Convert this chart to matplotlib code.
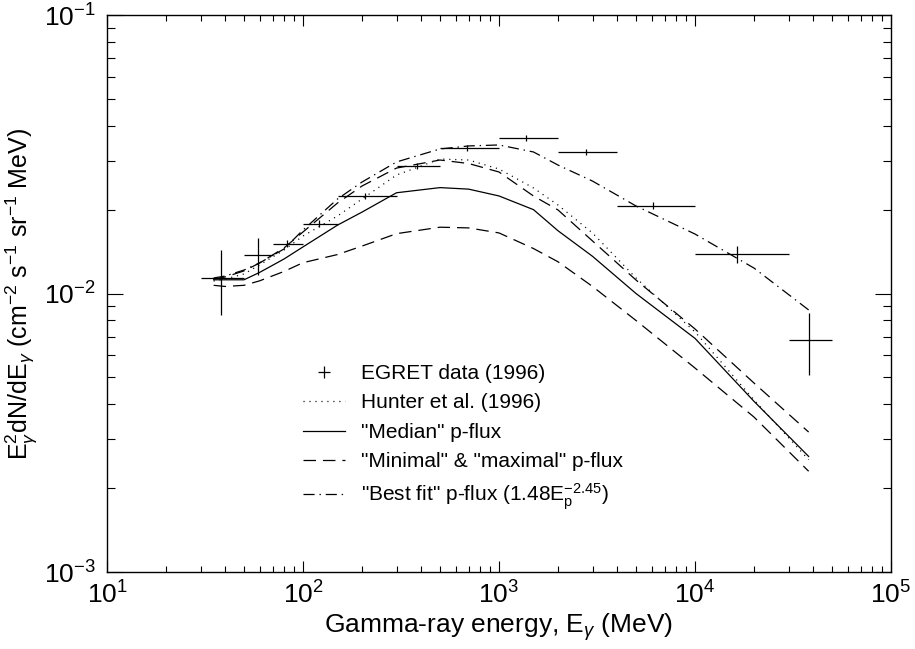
import matplotlib
matplotlib.use('Agg')
import matplotlib.pyplot as plt
from matplotlib.lines import Line2D
from matplotlib.ticker import LogLocator, NullFormatter

plt.rcParams['font.family'] = ['Liberation Sans', 'DejaVu Sans']
plt.rcParams['mathtext.fontset'] = 'custom'
plt.rcParams['mathtext.rm'] = 'Liberation Sans'
plt.rcParams['mathtext.it'] = 'Liberation Sans:italic'
plt.rcParams['mathtext.bf'] = 'Liberation Sans:bold'
plt.rcParams['axes.unicode_minus'] = False
plt.rcParams['lines.scale_dashes'] = False

# EGRET data (1996): bin centres, bin edges, flux and flux errors
egret_e = [38, 59, 83, 121, 207, 383, 690, 1380, 2770, 6080, 16400, 38300]
egret_e_lo = [30, 50, 70, 100, 150, 300, 500, 1000, 2000, 4000, 10000, 30000]
egret_e_hi = [50, 70, 100, 150, 300, 500, 1000, 2000, 4000, 10000, 30000, 50000]
egret_flux = [0.0114, 0.0137, 0.0151, 0.0178, 0.0224, 0.0287, 0.0333, 0.0363,
              0.0321, 0.0207, 0.0139, 0.0068]
egret_flux_lo = [0.00838, 0.01165, 0.0147, 0.0173, 0.0218, 0.0280, 0.0325, 0.0354,
                 0.0313, 0.0201, 0.0129, 0.0051]
egret_flux_hi = [0.01433, 0.01582, 0.0155, 0.0183, 0.0230, 0.0294, 0.0341, 0.0372,
                 0.0329, 0.0213, 0.0148, 0.0085]

# model curves
curve_e = [35, 40, 50, 60, 80, 100, 150, 200, 300, 500, 700, 1000, 1500, 2000,
           3000, 5000, 10000, 20000, 38000]
hunter = [0.01109, 0.01127, 0.01175, 0.01266, 0.01433, 0.01608, 0.01898, 0.02184,
          0.02663, 0.03040, 0.03015, 0.02799, 0.02393, 0.02078, 0.01649, 0.01137,
          0.00728, 0.00415, 0.00253]
median = [0.0112, 0.0112, 0.0112, 0.0119, 0.0133, 0.0147, 0.0176, 0.0196, 0.0230,
          0.0240, 0.0237, 0.0224, 0.0200, 0.0168, 0.0136, 0.0100, 0.0069, 0.0041,
          0.0026]
minimal = [0.0107, 0.0106, 0.0107, 0.0111, 0.0120, 0.0129, 0.0138, 0.0148, 0.0164,
           0.0173, 0.0172, 0.0165, 0.0145, 0.0130, 0.0106, 0.0080, 0.0054, 0.0036,
           0.0023]
maximal = [0.01127, 0.01146, 0.01205, 0.01287, 0.01457, 0.01663, 0.02113, 0.02432,
           0.02821, 0.03015, 0.02929, 0.02731, 0.02239, 0.01995, 0.01544, 0.01118,
           0.00746, 0.00477, 0.00318]
best_fit = [0.01137, 0.01155, 0.01214, 0.01287, 0.01445, 0.01690, 0.02184, 0.02513,
            0.02967, 0.03304, 0.03387, 0.03415, 0.03222, 0.02892, 0.02533, 0.02062,
            0.01635, 0.01234, 0.00873]

legend_labels = ['EGRET data (1996)', 'Hunter et al. (1996)', '"Median" p-flux',
                 '"Minimal" & "maximal" p-flux',
                 r'"Best fit" p-flux (1.48E$_\mathrm{p}^{\mathrm{-2.45}}$)']

lw = 0.9
dotted = (0, (0.8, 3.5))
dashed = (0, (9, 5))
dashdot = (0, (8, 3.5, 1, 3.5))

fig = plt.figure(figsize=(9.15, 6.49), dpi=100)
ax = fig.add_axes([107 / 915, 1 - 572 / 649, 784 / 915, 557 / 649])

xerr = [[c - lo for c, lo in zip(egret_e, egret_e_lo)],
        [hi - c for c, hi in zip(egret_e, egret_e_hi)]]
yerr = [[f - lo for f, lo in zip(egret_flux, egret_flux_lo)],
        [hi - f for f, hi in zip(egret_flux, egret_flux_hi)]]
ax.errorbar(egret_e, egret_flux, xerr=xerr, yerr=yerr, fmt='none',
            ecolor='black', elinewidth=lw, capsize=0)

ax.plot(curve_e, hunter, color='black', lw=lw, linestyle=dotted)
ax.plot(curve_e, median, color='black', lw=lw, linestyle='-')
ax.plot(curve_e, minimal, color='black', lw=lw, linestyle=dashed)
ax.plot(curve_e, maximal, color='black', lw=lw, linestyle=dashed)
ax.plot(curve_e, best_fit, color='black', lw=lw, linestyle=dashdot)

ax.set_xscale('log')
ax.set_yscale('log')
ax.set_xlim(10, 1e5)
ax.set_ylim(1e-3, 1e-1)

ax.xaxis.set_minor_locator(LogLocator(base=10, subs=range(2, 10), numticks=20))
ax.yaxis.set_minor_locator(LogLocator(base=10, subs=range(2, 10), numticks=20))
ax.xaxis.set_minor_formatter(NullFormatter())
ax.yaxis.set_minor_formatter(NullFormatter())

ax.tick_params(which='both', direction='in', top=True, right=True, width=0.8,
               labelsize=19)
ax.tick_params(axis='x', which='major', length=8, pad=7)
ax.tick_params(axis='x', which='minor', length=4)
ax.tick_params(axis='y', which='major', length=11.3, pad=8)
ax.tick_params(axis='y', which='minor', length=5.6)
for sp in ax.spines.values():
    sp.set_linewidth(1.0)

ax.set_xlabel(r'Gamma-ray energy, E$_\gamma$ (MeV)', fontsize=19, labelpad=2)
ax.set_ylabel(r'E$_\gamma^2$dN/dE$_\gamma$ (cm$^{-2}$ s$^{-1}$ sr$^{-1}$ MeV)',
              fontsize=18)
ax.yaxis.set_label_coords(-0.087, 0.5)

handles = [
    Line2D([], [], color='black', marker='+', markersize=9, linestyle='none', mew=lw),
    Line2D([], [], color='black', lw=lw, linestyle=dotted),
    Line2D([], [], color='black', lw=lw, linestyle='-'),
    Line2D([], [], color='black', lw=lw, linestyle=dashed),
    Line2D([], [], color='black', lw=lw, linestyle=dashdot),
]
ax.legend(handles, legend_labels, loc='upper left', frameon=False, fontsize=15,
          bbox_to_anchor=(303 / 915, 1 - 364 / 649), bbox_transform=fig.transFigure,
          borderpad=0, borderaxespad=0, handlelength=2.0, handletextpad=0.8,
          labelspacing=0.5)

fig.savefig('out.png', dpi=100)
